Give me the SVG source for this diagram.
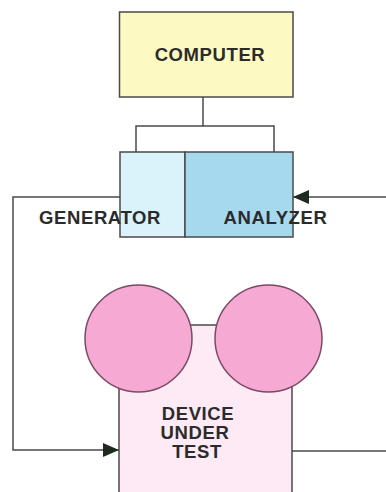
<svg xmlns="http://www.w3.org/2000/svg" width="386" height="492" viewBox="0 0 386 492">
  <defs>
    <style>
      .box { stroke: #4a4a4a; stroke-width: 1.5; }
      .wire { fill: none; stroke: #4a4a4a; stroke-width: 1.5; }
      .lbl { font-family: "Liberation Sans", Arial, sans-serif; font-weight: bold; font-size: 18.5px; fill: #2b2b2b; letter-spacing: 0.6px; }
      .disc { fill: #f5a9d3; stroke: #7a4a66; stroke-width: 1.5; }
    </style>
    <marker id="arrow" viewBox="0 0 16 14" refX="16" refY="7" markerWidth="16" markerHeight="14" markerUnits="userSpaceOnUse" orient="auto">
      <path d="M0,0 L16,7 L0,14 Z" fill="#1f2a1f"/>
    </marker>
  </defs>
  <rect width="386" height="492" fill="#ffffff"/>

  <g id="connectors">
    <!-- computer bus to generator/analyzer -->
    <path class="wire" d="M203,97 V126 M136,152 V126 H274 V152"/>
    <!-- generator output loop to device input -->
    <path class="wire" d="M120,197 H13 V450 H119" marker-end="url(#arrow)"/>
    <!-- device output back to analyzer -->
    <path class="wire" d="M292,451 H386"/>
    <path class="wire" d="M386,197 H293" marker-end="url(#arrow)"/>
  </g>

  <g id="computer">
    <rect class="box" x="119.5" y="12" width="173.5" height="85" fill="#fdf9c2"/>
    <text class="lbl" x="210" y="61" text-anchor="middle" font-size="19">COMPUTER</text>
  </g>

  <g id="generator">
    <rect class="box" x="120" y="152" width="65" height="85" fill="#daf3fa"/>
    <text class="lbl" x="100" y="224" text-anchor="middle" letter-spacing="1">GENERATOR</text>
  </g>

  <g id="analyzer">
    <rect class="box" x="185" y="152" width="108" height="85" fill="#a6d9ee"/>
    <text class="lbl" x="275.5" y="224" text-anchor="middle">ANALYZER</text>
  </g>

  <g id="device-under-test">
    <rect class="box" x="119" y="325" width="173" height="180" fill="#fdeaf5"/>
    <circle class="disc" cx="138.5" cy="338.5" r="53.5"/>
    <circle class="disc" cx="268.5" cy="338.5" r="53.5"/>
    <text class="lbl" x="198" y="420" text-anchor="middle">DEVICE</text>
    <text class="lbl" x="195" y="439" text-anchor="middle">UNDER</text>
    <text class="lbl" x="197" y="458" text-anchor="middle">TEST</text>
  </g>
</svg>
